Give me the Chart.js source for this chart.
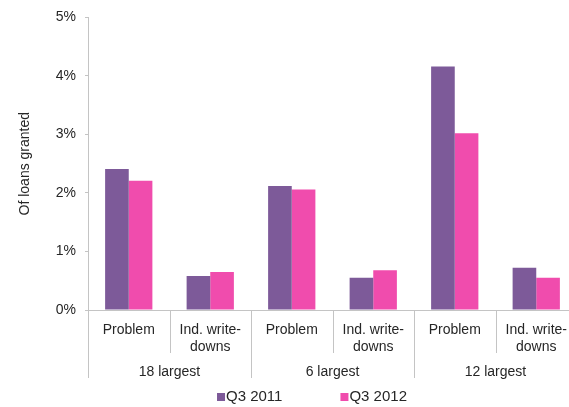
<!DOCTYPE html>
<html>
<head>
<meta charset="utf-8">
<script src="https://cdn.jsdelivr.net/npm/chart.js@4.4.1/dist/chart.umd.min.js"></script>
<style>
  html, body { margin: 0; padding: 0; background: #fff; overflow: hidden; }
  #wrap { width: 624px; height: 407px; }
</style>
</head>
<body>
<div id="wrap"><canvas id="loans"></canvas></div>
<script>
/* 数据 */
var subLabels = ['Problem', ['Ind. write-', 'downs'], 'Problem', ['Ind. write-', 'downs'], 'Problem', ['Ind. write-', 'downs']];
var groupLabels = ['18 largest', '6 largest', '12 largest'];
var seriesNames = ['Q3 2011', 'Q3 2012'];
var q3_2011 = [2.41, 0.58, 2.12, 0.55, 4.16, 0.72];
var q3_2012 = [2.21, 0.65, 2.06, 0.68, 3.02, 0.55];
var yTicks = [0, 1, 2, 3, 4, 5];

var colors = ['#7d5a99', '#f04cad'];
var lineGrey = '#c4c4c4';
var textColor = '#262626';
var fontFamily = "'Liberation Sans', Arial, sans-serif";

Chart.defaults.font.family = fontFamily;
Chart.defaults.font.size = 14;
Chart.defaults.color = textColor;

/* 分组标签、分隔线和图例 */
var groupAxis = {
    id: 'groupAxis',
    afterDraw: function(chart) {
        var ctx = chart.ctx;
        var x = chart.scales.x;
        var area = chart.chartArea;
        var half = (x.getPixelForValue(1) - x.getPixelForValue(0)) / 2;
        var base = area.bottom;

        ctx.save();
        ctx.strokeStyle = lineGrey;
        ctx.lineWidth = 1;
        for (var i = 0; i <= subLabels.length; i++) {
            var px = Math.round((i < subLabels.length ? x.getPixelForValue(i) - half : x.getPixelForValue(i - 1) + half)) + 0.5;
            var len = (i % 2 === 0) ? 68 : 43;
            ctx.beginPath();
            ctx.moveTo(px, base);
            ctx.lineTo(px, base + len);
            ctx.stroke();
        }

        ctx.fillStyle = textColor;
        ctx.font = '14px ' + fontFamily;
        ctx.textAlign = 'center';
        ctx.textBaseline = 'middle';
        for (var g = 0; g < groupLabels.length; g++) {
            var cx = (x.getPixelForValue(g * 2) + x.getPixelForValue(g * 2 + 1)) / 2;
            ctx.fillText(groupLabels[g], cx, base + 62);
        }

        /* 图例 */
        ctx.font = '15px ' + fontFamily;
        ctx.textAlign = 'left';
        var box = 8, gap = 1, space = 58;
        var widths = seriesNames.map(function(t) { return box + gap + ctx.measureText(t).width; });
        var total = widths[0] + space + widths[1];
        var lx = chart.width / 2 - total / 2;
        var ly = base + 87;
        for (var s = 0; s < seriesNames.length; s++) {
            ctx.fillStyle = colors[s];
            ctx.fillRect(lx, ly - box / 2, box, box);
            ctx.fillStyle = textColor;
            ctx.fillText(seriesNames[s], lx + box + gap, ly);
            lx += widths[s] + space;
        }
        ctx.restore();
    }
};

var ctx = document.getElementById('loans').getContext('2d');
var myChart = new Chart(ctx, {
    type: 'bar',
    data: {
        labels: subLabels,
        datasets: [{
            label: seriesNames[0],
            data: q3_2011,
            backgroundColor: colors[0],
            barPercentage: 1,
            categoryPercentage: 0.58
        }, {
            label: seriesNames[1],
            data: q3_2012,
            backgroundColor: colors[1],
            barPercentage: 1,
            categoryPercentage: 0.58
        }]
    },
    options: {
        responsive: true,
        maintainAspectRatio: false,
        animation: false,
        layout: {
            padding: { top: 13, right: 47, bottom: 17, left: 0 }
        },
        plugins: {
            legend: { display: false },
            tooltip: { enabled: false }
        },
        scales: {
            x: {
                grid: { display: false },
                border: { display: true, color: lineGrey, width: 1 },
                ticks: { padding: 4, maxRotation: 0, autoSkip: false, color: textColor, font: { size: 14 } },
                afterFit: function(scale) { scale.height = 80; }
            },
            y: {
                min: 0,
                max: 5,
                afterBuildTicks: function(scale) {
                    scale.ticks = yTicks.map(function(v) { return { value: v }; });
                },
                grid: { display: true, drawOnChartArea: false, tickLength: 3, color: lineGrey },
                border: { display: true, color: lineGrey, width: 1 },
                ticks: {
                    padding: 9,
                    color: textColor,
                    font: { size: 14 },
                    callback: function(v) { return v + '%'; }
                },
                title: {
                    display: true,
                    text: 'Of loans granted',
                    color: textColor,
                    font: { size: 14 },
                    padding: { top: 17, bottom: 0 }
                },
                afterFit: function(scale) { scale.width = 88; }
            }
        }
    },
    plugins: [groupAxis]
});
</script>
</body>
</html>
